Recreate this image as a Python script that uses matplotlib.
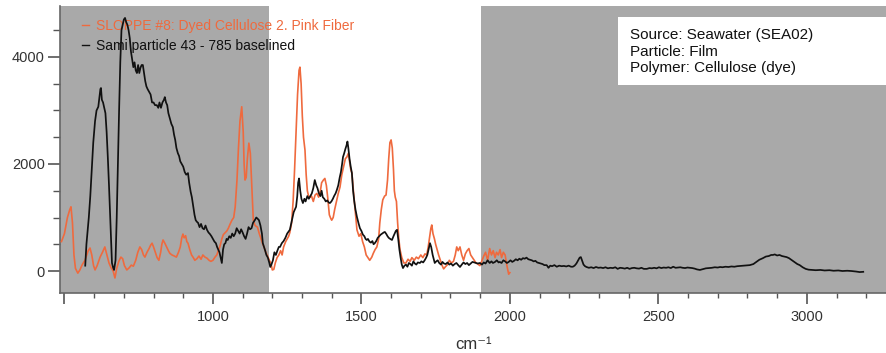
import matplotlib
matplotlib.use("Agg")
import matplotlib.pyplot as plt
from matplotlib.patches import Rectangle
from matplotlib.ticker import MultipleLocator

plt.rcParams['font.family'] = ['Liberation Sans', 'DejaVu Sans']

# ---------------- data ----------------
pink_label = "SLOPPE #8: Dyed Cellulose 2. Pink Fiber"
pink_x = [490, 500, 510, 518, 522, 527, 532, 537, 545, 552, 560, 569, 575, 580, 586, 592, 598, 603, 610, 620,
          628, 636, 643, 650, 657, 664, 670, 676, 683, 690, 696, 702, 710, 718, 725, 732, 740, 747, 754, 760,
          766, 771, 778, 785, 790, 795, 800, 806, 812, 818, 824, 828, 832, 838, 844, 850, 855, 862, 870, 877,
          884, 890, 895, 899, 903, 908, 912, 916, 922, 928, 934, 939, 946, 953, 960, 966, 973, 980, 987, 993,
          1000, 1007, 1013, 1018, 1023, 1030, 1035, 1040, 1047, 1052, 1058, 1064, 1070, 1075, 1081, 1086, 1091, 1097, 1102, 1105,
          1108, 1112, 1116, 1121, 1126, 1130, 1136, 1142, 1150, 1156, 1162, 1168, 1172, 1178, 1184, 1190, 1195, 1200, 1205, 1210,
          1216, 1222, 1228, 1233, 1238, 1245, 1250, 1255, 1259, 1265, 1270, 1275, 1280, 1285, 1290, 1293, 1297, 1301, 1305, 1310,
          1314, 1318, 1322, 1327, 1332, 1338, 1344, 1350, 1356, 1362, 1366, 1372, 1377, 1382, 1387, 1392, 1397, 1400, 1405, 1410,
          1416, 1422, 1428, 1434, 1440, 1446, 1451, 1456, 1460, 1464, 1468, 1473, 1478, 1485, 1492, 1498, 1504, 1510, 1516, 1522,
          1528, 1535, 1540, 1546, 1552, 1558, 1562, 1567, 1572, 1578, 1583, 1588, 1592, 1596, 1600, 1604, 1608, 1611, 1614, 1618,
          1622, 1626, 1630, 1636, 1643, 1650, 1657, 1664, 1670, 1678, 1685, 1692, 1700, 1707, 1714, 1720, 1725, 1730, 1734, 1737,
          1741, 1746, 1750, 1755, 1760, 1766, 1772, 1777, 1783, 1790, 1796, 1803, 1810, 1816, 1821, 1826, 1832, 1838, 1844, 1850,
          1856, 1862, 1868, 1874, 1880, 1886, 1892, 1899, 1905, 1912, 1918, 1925, 1932, 1938, 1944, 1950, 1955, 1961, 1967, 1972,
          1978, 1984, 1990, 1996, 2000]
pink_y = [550, 700, 1000, 1150, 1200, 900, 300, 50, -40, 20, 120, 200, 300, 380, 430, 300, 100, 20, 100, 260,
          350, 450, 300, 150, 60, 0, -130, 50, 180, 260, 230, 100, 20, 60, 110, 90, 200, 350, 450, 400,
          300, 260, 350, 420, 480, 520, 450, 350, 250, 200, 350, 500, 580, 520, 450, 380, 330, 300, 280, 260,
          350, 450, 620, 690, 620, 660, 550, 520, 400, 300, 250, 200, 230, 280, 220, 300, 260, 240, 200, 180,
          200, 260, 300, 380, 450, 600, 680, 710, 750, 800, 880, 950, 1000, 1200, 1700, 2300, 2800, 3070, 2600, 2000,
          1700, 1750, 2100, 2390, 2200, 1700, 950, 850, 820, 700, 600, 500, 450, 350, 280, 200, 150, 20, 30, 150,
          250, 300, 380, 300, 450, 550, 600, 650, 720, 900, 1300, 1900, 2580, 3300, 3750, 3810, 3500, 2900, 2500, 2260,
          1800, 1500, 1400, 1380, 1400, 1300, 1420, 1450, 1380, 1500, 1650, 1700, 1730, 1600, 1350, 1050, 980, 950, 1000, 1150,
          1300, 1450, 1570, 1800, 1950, 2100, 2130, 2200, 2050, 1900, 1830, 1500, 1200, 770, 650, 700, 550, 450, 300, 250,
          200, 260, 330, 400, 450, 600, 900, 1150, 1330, 1400, 1420, 1700, 2100, 2400, 2450, 2300, 1900, 1500, 1380, 1300,
          900, 600, 400, 250, 150, 150, 220, 180, 250, 200, 260, 230, 300, 250, 320, 300, 450, 650, 800, 860,
          700, 600, 500, 400, 300, 200, 100, 40, 80, 120, 200, 150, 180, 300, 450, 380, 450, 300, 200, 320,
          380, 420, 300, 250, 200, 150, 130, 100, 180, 280, 350, 200, 420, 300, 380, 250, 350, 300, 400, 250,
          350, 300, 100, -60, -30]

sami_label = "Sami particle 43 - 785 baselined"
sami_x = [570, 574, 578, 582, 587, 592, 597, 603, 608, 614, 618, 621, 623, 626, 630, 634, 638, 642, 646, 650,
          654, 657, 660, 664, 667, 672, 676, 680, 684, 688, 692, 696, 700, 704, 708, 712, 716, 720, 724, 728,
          732, 736, 740, 744, 748, 752, 756, 760, 764, 768, 772, 776, 780, 785, 790, 795, 800, 805, 811, 816,
          820, 825, 830, 835, 838, 842, 846, 850, 855, 860, 865, 869, 873, 877, 882, 886, 890, 895, 900, 905,
          910, 916, 920, 925, 929, 934, 938, 942, 946, 950, 955, 960, 965, 970, 975, 980, 985, 990, 995, 1000,
          1005, 1010, 1014, 1018, 1022, 1026, 1030, 1034, 1038, 1042, 1046, 1050, 1055, 1060, 1065, 1070, 1075, 1080, 1085, 1090,
          1095, 1100, 1105, 1110, 1115, 1120, 1125, 1130, 1135, 1141, 1146, 1150, 1155, 1160, 1165, 1168, 1172, 1176, 1180, 1185,
          1190, 1193, 1197, 1202, 1207, 1212, 1217, 1222, 1226, 1232, 1238, 1244, 1250, 1255, 1259, 1264, 1268, 1272, 1276, 1280,
          1284, 1287, 1290, 1294, 1298, 1303, 1308, 1312, 1318, 1323, 1328, 1333, 1338, 1343, 1348, 1352, 1357, 1362, 1366, 1370,
          1375, 1380, 1385, 1390, 1394, 1399, 1404, 1408, 1413, 1417, 1422, 1427, 1431, 1435, 1438, 1442, 1446, 1450, 1453, 1456,
          1460, 1464, 1468, 1472, 1476, 1480, 1485, 1490, 1495, 1500, 1505, 1510, 1514, 1518, 1522, 1527, 1532, 1537, 1541, 1545,
          1550, 1555, 1560, 1565, 1570, 1575, 1579, 1584, 1588, 1592, 1597, 1603, 1608, 1612, 1616, 1620, 1624, 1628, 1632, 1636,
          1640, 1645, 1650, 1655, 1660, 1665, 1670, 1675, 1680, 1685, 1690, 1697, 1702, 1708, 1713, 1718, 1722, 1726, 1731, 1735,
          1740, 1747, 1752, 1757, 1762, 1768, 1773, 1778, 1784, 1790, 1796, 1802, 1808, 1814, 1820, 1826, 1832, 1838, 1844, 1850,
          1856, 1862, 1868, 1874, 1880, 1886, 1892, 1899, 1906, 1912, 1918, 1925, 1932, 1938, 1943, 1950, 1956, 1962, 1966, 1972,
          1978, 1984, 1990, 1996, 2002, 2008, 2014, 2020, 2026, 2032, 2038, 2044, 2050, 2056, 2062, 2068, 2074, 2080, 2086, 2092,
          2098, 2104, 2110, 2116, 2124, 2130, 2136, 2142, 2150, 2158, 2166, 2174, 2182, 2190, 2198, 2206, 2212, 2218, 2224, 2230,
          2235, 2239, 2243, 2248, 2253, 2258, 2266, 2274, 2282, 2290, 2298, 2306, 2314, 2322, 2330, 2338, 2347, 2355, 2363, 2371,
          2379, 2387, 2395, 2403, 2411, 2419, 2427, 2435, 2443, 2451, 2461, 2470, 2478, 2486, 2494, 2502, 2510, 2518, 2526, 2534,
          2542, 2550, 2558, 2566, 2574, 2582, 2590, 2598, 2606, 2614, 2622, 2630, 2640, 2650, 2660, 2670, 2680, 2690, 2700, 2708,
          2716, 2726, 2736, 2746, 2756, 2766, 2776, 2786, 2796, 2808, 2820, 2830, 2840, 2852, 2862, 2872, 2880, 2886, 2892, 2900,
          2908, 2916, 2924, 2932, 2940, 2950, 2960, 2968, 2976, 2986, 2996, 3006, 3016, 3030, 3046, 3060, 3076, 3090, 3106, 3120,
          3136, 3150, 3166, 3178, 3190]
sami_y = [100, 500, 750, 1000, 1400, 1900, 2400, 2800, 3000, 3070, 3250, 3400, 3420, 3200, 3150, 3050, 2950, 2600, 2130, 1600,
          1000, 500, 150, 60, 20, 200, 1000, 2000, 3000, 3900, 4500, 4600, 4700, 4730, 4650, 4600, 4500, 4350, 4100, 3950,
          3810, 3900, 3750, 3700, 3850, 3700, 3800, 3850, 3850, 3700, 3550, 3450, 3400, 3350, 3300, 3150, 3150, 3100, 3100, 3050,
          3150, 3050, 3150, 3200, 3250, 3150, 3100, 2950, 2850, 2750, 2690, 2550, 2450, 2300, 2200, 2150, 2050, 2000, 1950, 1850,
          1800, 1830, 1650, 1480, 1380, 1200, 1050, 950, 920, 900, 820, 880, 800, 780, 850, 770, 720, 690, 650, 600,
          550, 520, 450, 400, 350, 250, 150, 400, 500, 520, 600, 580, 650, 620, 700, 650, 700, 800, 750, 700,
          780, 720, 650, 600, 700, 820, 780, 800, 900, 950, 1000, 980, 950, 850, 700, 520, 450, 380, 300, 250,
          150, 75, 120, 200, 350, 300, 380, 450, 450, 520, 560, 620, 700, 740, 770, 900, 1000, 1100, 1150, 1200,
          1400, 1650, 1730, 1500, 1350, 1270, 1350, 1300, 1400, 1350, 1400, 1450, 1550, 1700, 1600, 1550, 1450, 1400, 1500, 1380,
          1350, 1300, 1320, 1280, 1270, 1300, 1350, 1400, 1450, 1510, 1600, 1750, 1850, 2000, 2130, 2200, 2280, 2350, 2420, 2300,
          2100, 1950, 1830, 1500, 1300, 1150, 1010, 900, 800, 750, 680, 650, 600, 580, 600, 550, 530, 560, 500, 520,
          560, 620, 650, 680, 700, 720, 730, 690, 650, 620, 600, 580, 650, 700, 750, 770, 600, 400, 250, 120,
          55, 100, 120, 80, 150, 130, 100, 180, 140, 120, 160, 150, 180, 160, 200, 250, 300, 400, 520, 450,
          300, 150, 180, 200, 150, 120, 170, 140, 130, 160, 120, 140, 100, 130, 150, 110, 75, 120, 160, 130,
          150, 110, 140, 170, 160, 150, 140, 150, 120, 160, 140, 200, 150, 180, 150, 170, 200, 160, 170, 150,
          200, 180, 150, 170, 200, 170, 190, 220, 200, 230, 210, 240, 230, 250, 220, 210, 200, 180, 190, 160,
          150, 140, 130, 110, 110, 60, 100, 90, 110, 80, 100, 90, 95, 85, 100, 80, 80, 100, 140, 200,
          250, 260, 200, 120, 90, 75, 60, 70, 55, 75, 60, 65, 55, 70, 50, 60, 55, 70, 40, 60,
          55, 45, 60, 40, 55, 60, 50, 45, 60, 40, 40, 55, 50, 60, 50, 70, 55, 65, 60, 70,
          55, 80, 60, 65, 70, 60, 55, 65, 60, 55, 45, 30, 20, 35, 50, 55, 60, 70, 65, 75,
          70, 80, 75, 85, 80, 90, 95, 100, 105, 110, 130, 170, 210, 240, 270, 280, 300, 300, 310, 290,
          300, 280, 270, 260, 240, 200, 160, 130, 110, 70, 40, 25, 20, 15, 20, 10, 15, 5, 10, 0,
          5, 0, -10, -20, -15]

shade_left = (485, 1190)
shade_right = (1902, 3270)
x_ticks = [500, 1000, 1500, 2000, 2500, 3000]
x_tick_labels = ['', '1000', '1500', '2000', '2500', '3000']
y_ticks = [0, 2000, 4000]
y_tick_labels = ['0', '2000', '4000']
info_lines = ["Source: Seawater (SEA02)", "Particle: Film", "Polymer: Cellulose (dye)"]

# ---------------- figure ----------------
W, H = 887, 353
fig = plt.figure(figsize=(W / 100, H / 100), dpi=100)
ax = fig.add_axes([60 / W, 1 - 293 / H, 1 - 60 / W, (293 - 6) / H])

grey = '#a9a9a9'
orange = '#ef6a3e'
ax.axvspan(*shade_left, color=grey, lw=0, zorder=0)
ax.axvspan(*shade_right, color=grey, lw=0, zorder=0)

ax.plot(pink_x, pink_y, color=orange, lw=1.2, label=pink_label, zorder=3)
ax.plot(sami_x, sami_y, color='#111111', lw=1.25, label=sami_label, zorder=4)

ax.set_xlim(485, 3270)
ax.set_ylim(-411, 4953)

ax.set_xticks(x_ticks)
ax.set_xticklabels(x_tick_labels)
ax.xaxis.set_minor_locator(MultipleLocator(100))
ax.set_yticks(y_ticks)
ax.set_yticklabels(y_tick_labels)
ax.yaxis.set_minor_locator(MultipleLocator(500))

for s in ['top', 'right']:
    ax.spines[s].set_visible(False)
for s in ['left', 'bottom']:
    ax.spines[s].set_color('#666666')
    ax.spines[s].set_linewidth(1.2)

ax.tick_params(axis='x', which='major', length=8, width=1.2, color='#555555',
               labelsize=10.5, labelcolor='#333333', pad=4)
ax.tick_params(axis='x', which='minor', length=3.5, width=1.0, color='#555555')
ax.tick_params(axis='y', which='major', length=9, width=1.2, color='#555555',
               labelsize=10.5, labelcolor='#333333', pad=2)
ax.tick_params(axis='y', which='minor', length=5, width=1.0, color='#555555')

ax.set_xlabel('cm⁻¹', fontsize=12, color='#333333')
ax.xaxis.set_label_coords(0.5, -0.178)
ax.xaxis.label.set_va('center')

leg = ax.legend(loc='upper left', bbox_to_anchor=((82 - 60) / (W - 60), (293 - 19) / 287),
                frameon=False, fontsize=10, handlelength=0.5, handletextpad=0.5,
                borderpad=0, borderaxespad=0, labelspacing=0.45, labelcolor='linecolor')
leg.set_zorder(2)
for h in leg.get_lines():
    h.set_linewidth(1.0)

# info box
fig.patches.append(Rectangle((618 / W, 1 - 85 / H), (W - 618) / W, 68 / H,
                             transform=fig.transFigure, facecolor='white', edgecolor='none', zorder=5))
for line, base in zip(info_lines, [39.5, 55.5, 72]):
    fig.text(630 / W, 1 - base / H, line, fontsize=11, color='#111111', va='baseline', ha='left', zorder=6)

fig.savefig('out.png', dpi=100)
